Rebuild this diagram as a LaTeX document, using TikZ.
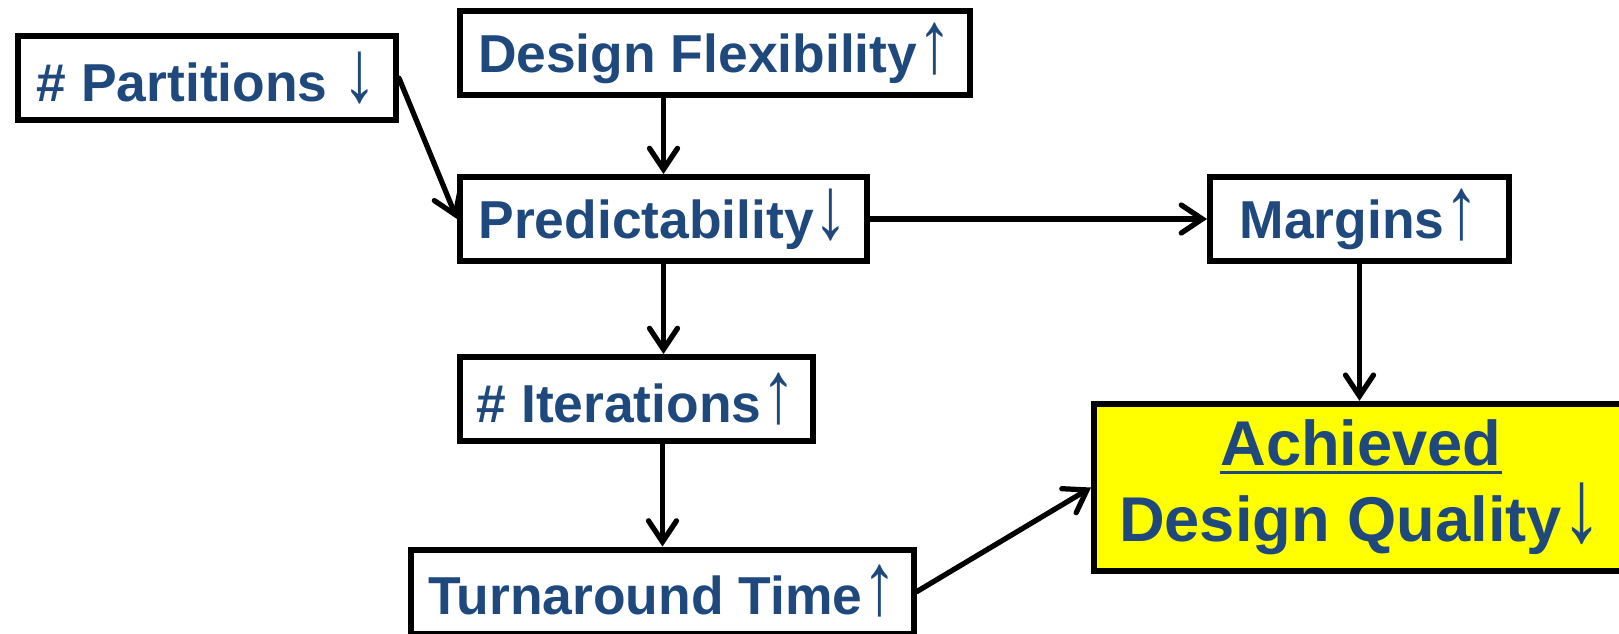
\documentclass[tikz,border=0pt]{standalone}
\usepackage{fontspec}
\setmainfont{Liberation Sans}
\usepackage{tikz}
\usepackage{xcolor}
\usetikzlibrary{arrows.meta}

\definecolor{txtblue}{RGB}{31,73,125}
\definecolor{goalyellow}{RGB}{255,255,0}
\newcommand{\upar}{\scalebox{1.3}[1.65]{\mdseries ↑}}
\newcommand{\dnar}{\scalebox{1.3}[1.65]{\mdseries ↓}}
\newcommand{\ulword}[1]{\setbox0=\hbox{#1}\rlap{\raisebox{-0.17cm}{\rule{\wd0}{0.06cm}}}\box0}

\begin{document}
\begin{tikzpicture}[x=0.02cm,y=-0.02cm,
    box/.style={draw,line width=0.12cm,inner sep=0pt,minimum height=1.68cm,
        text=txtblue,font=\fontsize{30.4}{36}\selectfont\bfseries},
    goalbox/.style={box,fill=goalyellow,minimum height=3.35cm,align=center,
        font=\fontsize{36}{43}\selectfont\bfseries},
    flow/.style={-{Straight Barb[length=0.42cm,width=0.56cm,line cap=round]},
        line width=0.105cm,line cap=round}]
        \useasboundingbox (0,0) rectangle (1619,633);
        % boxes
        \node (part) at (207,78) [box,minimum width=7.56cm] {\# Partitions \dnar};
        \node (flex) at (715,53) [box,minimum width=10.2cm] {Design Flexibility\upar};
        \node (pred) at (663.5,219) [box,minimum width=8.14cm] {Predictability\dnar};
        \node (marg) at (1359.5,219) [box,minimum width=5.98cm] {Margins\upar};
        \node (iter) at (636.5,399) [box,minimum width=7.06cm] {\# Iterations\upar};
        \node (turn) at (662.5,591.5) [box,minimum width=10.06cm] {Turnaround Time\upar};
        \node (qual) at (1361,487.5) [goalbox,minimum width=10.68cm] {\ulword{Achieved}\\Design Quality\dnar};
        % arrows
        \draw [flow] (part.east) -- (pred.west);
        \draw [flow] (pred.north |- flex.south) -- (pred.north);
        \draw [flow] (pred.east) -- (marg.west);
        \draw [flow] (pred.south) -- (pred.south |- iter.north);
        \draw [flow] (turn.north |- iter.south) -- (turn.north);
        \draw [flow] (marg.south) -- (marg.south |- qual.north);
        \draw [flow] (turn.east) -- (qual.west);
\end{tikzpicture}
\end{document}
